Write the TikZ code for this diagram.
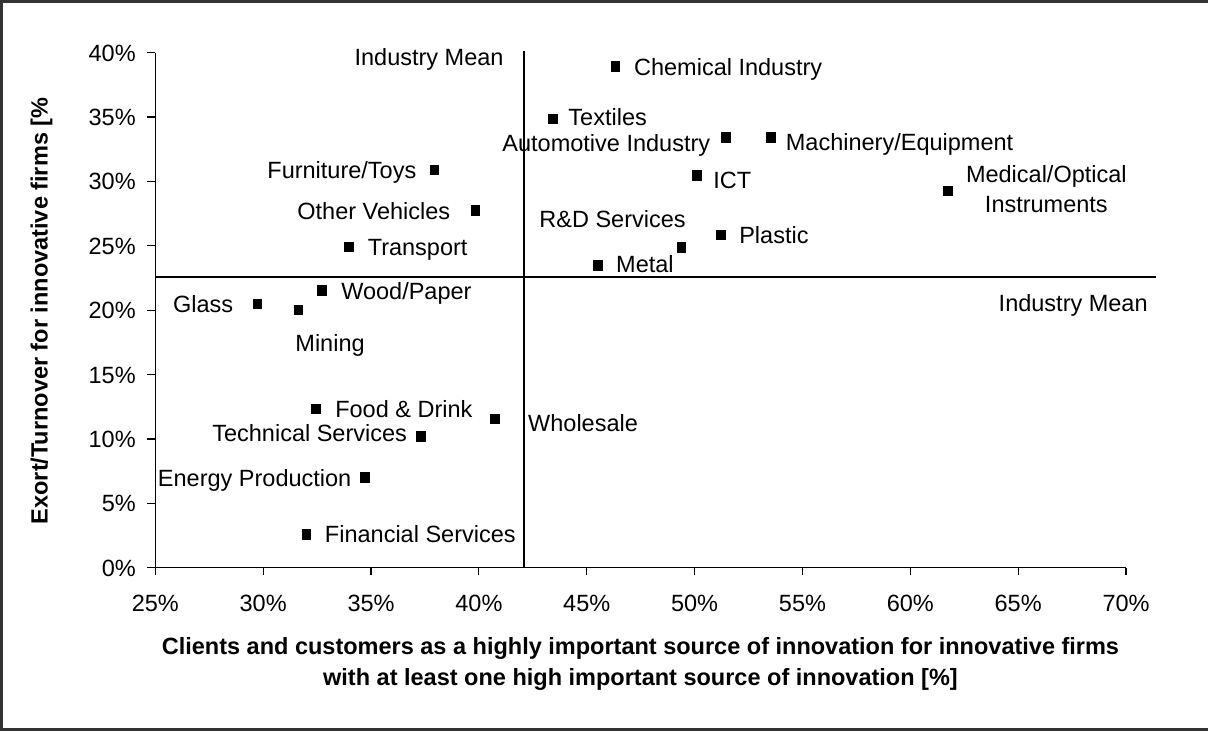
\documentclass[tikz,border=0pt]{standalone}
\usepackage{fontspec}
\setmainfont{Liberation Sans}
\usetikzlibrary{positioning}

\tikzset{
  txt/.style={font=\fontsize{23.5}{30}\selectfont, inner sep=0pt},
  lbl/.style={txt, text height=17pt, text depth=0pt},
  ttl/.style={lbl, font=\fontsize{23.5}{30}\selectfont\bfseries},
  dot/.style={rectangle, fill=black, minimum width=9.5pt, minimum height=10.5pt, inner sep=0pt},
  meanline/.style={line width=2pt}
}

\begin{document}
\begin{tikzpicture}[x=21.57pt, y=12.875pt, line width=1.2pt]
      \useasboundingbox (17.80,-12.68) rectangle (73.80,44.09);
      % frame (open on the right)
      \draw[line width=2.5pt, black!80] (73.80,43.97) -- (17.87,43.97) -- (17.87,-12.56) -- (73.80,-12.56);
      % axes
      \draw (25,40) -- (25,0) -- (70,0);
      % routine for ticks
      \draw (25,0) -- ++(-8pt,0) node[lbl, left=11pt] {0\%};
      \draw (25,5) -- ++(-8pt,0) node[lbl, left=11pt] {5\%};
      \draw (25,10) -- ++(-8pt,0) node[lbl, left=11pt] {10\%};
      \draw (25,15) -- ++(-8pt,0) node[lbl, left=11pt] {15\%};
      \draw (25,20) -- ++(-8pt,0) node[lbl, left=11pt] {20\%};
      \draw (25,25) -- ++(-8pt,0) node[lbl, left=11pt] {25\%};
      \draw (25,30) -- ++(-8pt,0) node[lbl, left=11pt] {30\%};
      \draw (25,35) -- ++(-8pt,0) node[lbl, left=11pt] {35\%};
      \draw (25,40) -- ++(-8pt,0) node[lbl, left=11pt] {40\%};
      \draw (25,0) -- ++(0,-7pt) node[lbl, below=19pt] {25\%};
      \draw (30,0) -- ++(0,-7pt) node[lbl, below=19pt] {30\%};
      \draw (35,0) -- ++(0,-7pt) node[lbl, below=19pt] {35\%};
      \draw (40,0) -- ++(0,-7pt) node[lbl, below=19pt] {40\%};
      \draw (45,0) -- ++(0,-7pt) node[lbl, below=19pt] {45\%};
      \draw (50,0) -- ++(0,-7pt) node[lbl, below=19pt] {50\%};
      \draw (55,0) -- ++(0,-7pt) node[lbl, below=19pt] {55\%};
      \draw (60,0) -- ++(0,-7pt) node[lbl, below=19pt] {60\%};
      \draw (65,0) -- ++(0,-7pt) node[lbl, below=19pt] {65\%};
      \draw (70,0) -- ++(0,-7pt) node[lbl, below=19pt] {70\%};
      % industry means
      \draw[meanline] (42.11,0) -- (42.11,40.13);
      \draw[meanline] (25,22.60) -- (71.41,22.60);
      \node[lbl] (meantop) at (37.69,39.69) {Industry Mean};
      \node[lbl] (meanright) at (67.55,20.56) {Industry Mean};
      % sectors
      \node[dot] (chem) at (46.34,38.91) {};
      \node[lbl, right=12.5pt of chem] (chemlbl) {Chemical Industry};
      \node[dot] (tex) at (43.44,34.85) {};
      \node[lbl, right=9.4pt of tex, yshift=2.3pt] (texlbl) {Textiles};
      \node[dot] (auto) at (51.46,33.40) {};
      \node[lbl, left=10pt of auto, yshift=-5pt] (autolbl) {Automotive Industry};
      \node[dot] (mach) at (53.53,33.40) {};
      \node[lbl, right=9.2pt of mach, yshift=-4.7pt] (machlbl) {Machinery/Equipment};
      \node[dot] (ict) at (50.11,30.45) {};
      \node[lbl, right=10.5pt of ict, yshift=-4.3pt] (ictlbl) {ICT};
      \node[dot] (med) at (61.75,29.26) {};
      \node[txt, align=center, right=12pt of med, yshift=2pt] (medlbl) {Medical/Optical\\Instruments};
      \node[dot] (rd) at (49.39,24.85) {};
      \node[lbl, anchor=east, xshift=4.8pt, yshift=28.4pt] (rdlbl) at (rd) {R\&D Services};
      \node[dot] (plast) at (51.23,25.82) {};
      \node[lbl, right=12.2pt of plast] (plastlbl) {Plastic};
      \node[dot] (metal) at (45.52,23.46) {};
      \node[lbl, right=12.3pt of metal, yshift=1.7pt] (metallbl) {Metal};
      \node[dot] (furn) at (37.94,30.89) {};
      \node[lbl, left=12.2pt of furn] (furnlbl) {Furniture/Toys};
      \node[dot] (othveh) at (39.85,27.73) {};
      \node[lbl, left=19.5pt of othveh] (othvehlbl) {Other Vehicles};
      \node[dot] (transp) at (33.98,24.89) {};
      \node[lbl, right=12.8pt of transp] (transplbl) {Transport};
      \node[dot] (wood) at (32.72,21.51) {};
      \node[lbl, right=13.5pt of wood] (woodlbl) {Wood/Paper};
      \node[dot] (glass) at (29.74,20.48) {};
      \node[lbl, left=18.4pt of glass] (glasslbl) {Glass};
      \node[dot] (mining) at (31.64,20.02) {};
      \node[lbl, xshift=31.5pt, yshift=-33.3pt] (mininglbl) at (mining) {Mining};
      \node[dot] (food) at (32.44,12.33) {};
      \node[lbl, right=13.5pt of food] (foodlbl) {Food \& Drink};
      \node[dot] (whole) at (40.74,11.55) {};
      \node[lbl, right=27.4pt of whole, yshift=-4.3pt] (wholelbl) {Wholesale};
      \node[dot] (tech) at (37.32,10.17) {};
      \node[lbl, left=8.2pt of tech, yshift=3.4pt] (techlbl) {Technical Services};
      \node[dot] (energy) at (34.71,7.02) {};
      \node[lbl, left=7.5pt of energy, yshift=-1pt] (energylbl) {Energy Production};
      \node[dot] (fin) at (32.0,2.59) {};
      \node[lbl, right=12.7pt of fin] (finlbl) {Financial Services};
      % axis titles
      \node[ttl, rotate=90] (ytitle) at (19.61,19.94) {Exort/Turnover for innovative firms [\%};
      \node[txt, font=\fontsize{23.5}{30.7}\selectfont\bfseries, align=center] (xtitle) at (47.49,-7.46)
        {Clients and customers as a highly important source of innovation for innovative firms\\with at least one high important source of innovation [\%]};
\end{tikzpicture}
\end{document}
